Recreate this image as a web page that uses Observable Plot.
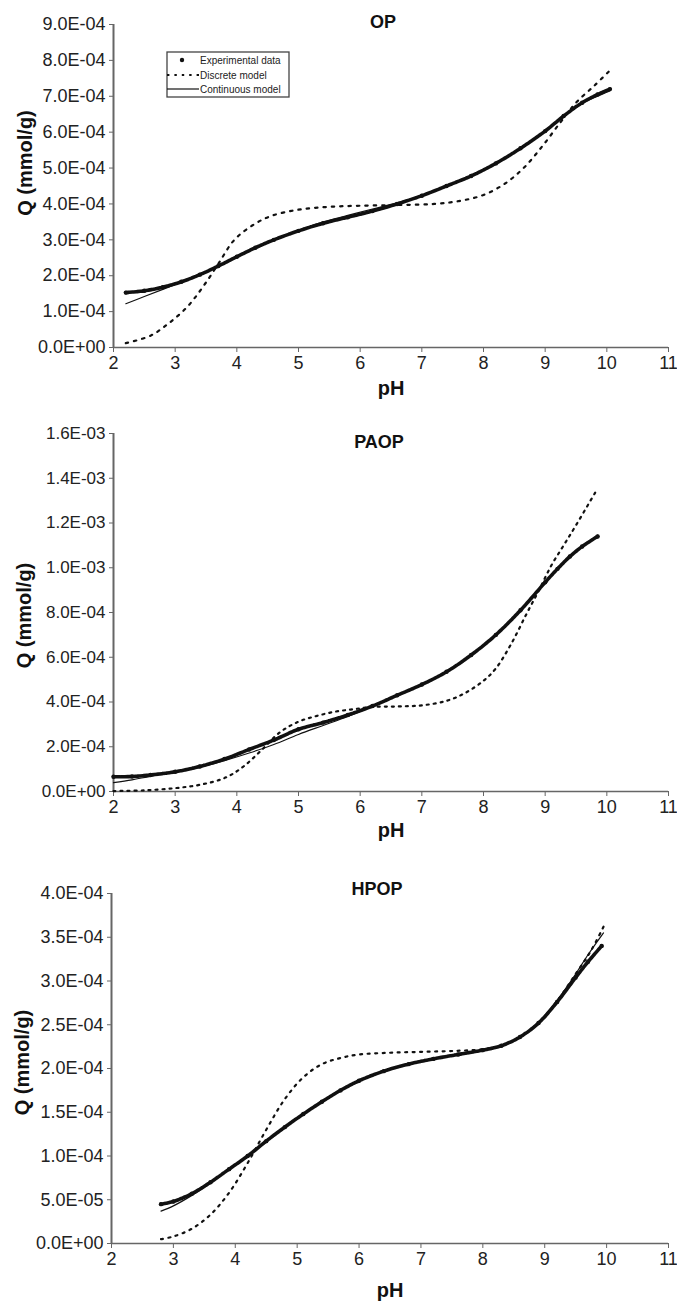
<!DOCTYPE html>
<html><head><meta charset="utf-8">
<script src="https://cdn.jsdelivr.net/npm/d3@7"></script>
<script src="https://cdn.jsdelivr.net/npm/@observablehq/plot@0.6"></script>
<style>
body{margin:0;background:#fff;}
#wrap{position:relative;width:677px;height:1308px;font-family:"Liberation Sans",Arial,sans-serif;overflow:hidden;}
.panel{position:absolute;left:0;}
#legend{position:absolute;left:166px;top:51px;}
</style></head><body><div id="wrap"></div>
<script>
// ---------- data (Q values in units of 1e-4 mmol/g) ----------
const xTicks = [2, 3, 4, 5, 6, 7, 8, 9, 10, 11];
const opYTicks = [0, 1e-4, 2e-4, 3e-4, 4e-4, 5e-4, 6e-4, 7e-4, 8e-4, 9e-4];
const paopYTicks = [0, 2e-4, 4e-4, 6e-4, 8e-4, 1e-3, 1.2e-3, 1.4e-3, 1.6e-3];
const hpopYTicks = [0, 5e-5, 1e-4, 1.5e-4, 2e-4, 2.5e-4, 3e-4, 3.5e-4, 4e-4];

// OP
const opExpPH = [2.2, 2.5, 2.8, 3.1, 3.4, 3.7, 4.0, 4.3, 4.6, 5.0, 5.4, 5.8, 6.2, 6.6, 7.0, 7.4, 7.8, 8.2, 8.6, 9.0, 9.3, 9.6, 9.85, 10.05];
const opExpQ  = [1.53, 1.58, 1.68, 1.83, 2.03, 2.27, 2.53, 2.78, 3.0, 3.25, 3.46, 3.63, 3.8, 4.0, 4.23, 4.5, 4.78, 5.13, 5.55, 6.03, 6.45, 6.82, 7.05, 7.2];
const opContPH = [2.2, 2.5, 2.8, 3.1, 3.4, 3.7, 4.0, 4.3, 4.6, 5.0, 5.4, 5.8, 6.2, 6.6, 7.0, 7.4, 7.8, 8.2, 8.6, 9.0, 9.3, 9.6, 9.85, 10.05];
const opContQ  = [1.22, 1.42, 1.62, 1.82, 2.03, 2.27, 2.53, 2.78, 3.0, 3.26, 3.5, 3.68, 3.86, 4.03, 4.24, 4.5, 4.78, 5.13, 5.55, 6.03, 6.45, 6.8, 7.0, 7.15];
const opDiscPH = [2.2, 2.6, 2.9, 3.2, 3.45, 3.7, 3.95, 4.25, 4.55, 5.0, 5.5, 6.0, 6.6, 7.2, 7.6, 8.0, 8.35, 8.65, 8.95, 9.25, 9.5, 9.8, 10.05];
const opDiscQ  = [0.12, 0.33, 0.68, 1.14, 1.69, 2.33, 2.98, 3.4, 3.66, 3.84, 3.92, 3.95, 3.97, 4.0, 4.08, 4.25, 4.57, 5.0, 5.6, 6.28, 6.82, 7.3, 7.72];

// PAOP
const paopExpPH = [2.0, 2.3, 2.6, 3.0, 3.4, 3.8, 4.2, 4.6, 5.0, 5.4, 5.8, 6.2, 6.6, 7.0, 7.4, 7.8, 8.2, 8.6, 9.0, 9.2, 9.4, 9.6, 9.85];
const paopExpQ  = [0.66, 0.67, 0.74, 0.88, 1.12, 1.45, 1.88, 2.3, 2.78, 3.08, 3.42, 3.82, 4.3, 4.78, 5.35, 6.1, 7.0, 8.1, 9.35, 9.95, 10.5, 10.95, 11.4];
const paopContPH = [2.0, 2.3, 2.6, 3.0, 3.4, 3.8, 4.2, 4.6, 5.0, 5.4, 5.8, 6.2, 6.6, 7.0, 7.4, 7.8, 8.2, 8.6, 9.0, 9.2, 9.4, 9.6, 9.85];
const paopContQ  = [0.4, 0.52, 0.68, 0.86, 1.08, 1.38, 1.72, 2.1, 2.55, 2.95, 3.35, 3.8, 4.28, 4.78, 5.35, 6.1, 7.0, 8.1, 9.35, 9.95, 10.5, 10.95, 11.45];
const paopDiscPH = [2.0, 2.5, 3.0, 3.4, 3.8, 4.1, 4.4, 4.7, 5.0, 5.3, 5.6, 5.9, 6.2, 6.6, 7.0, 7.4, 7.7, 8.0, 8.2, 8.45, 8.7, 8.9, 9.1, 9.3, 9.5, 9.82];
const paopDiscQ  = [0.02, 0.05, 0.15, 0.3, 0.6, 1.1, 1.85, 2.65, 3.12, 3.38, 3.57, 3.68, 3.78, 3.8, 3.85, 4.05, 4.4, 4.95, 5.5, 6.6, 7.95, 9.0, 10.1, 11.0, 11.9, 13.4];

// HPOP
const hpopExpPH = [2.8, 3.0, 3.3, 3.6, 3.9, 4.2, 4.5, 4.8, 5.1, 5.4, 5.7, 6.0, 6.4, 6.8, 7.2, 7.6, 8.0, 8.3, 8.6, 8.9, 9.2, 9.5, 9.7, 9.92];
const hpopExpQ  = [0.45, 0.48, 0.57, 0.7, 0.85, 1.0, 1.17, 1.33, 1.48, 1.62, 1.75, 1.86, 1.97, 2.05, 2.11, 2.16, 2.21, 2.26, 2.36, 2.52, 2.76, 3.04, 3.22, 3.4];
const hpopContPH = [2.8, 3.0, 3.3, 3.6, 3.9, 4.2, 4.5, 4.8, 5.1, 5.4, 5.7, 6.0, 6.4, 6.8, 7.2, 7.6, 8.0, 8.3, 8.6, 8.9, 9.2, 9.5, 9.7, 9.95];
const hpopContQ  = [0.37, 0.43, 0.55, 0.69, 0.85, 1.0, 1.17, 1.33, 1.48, 1.62, 1.75, 1.86, 1.97, 2.05, 2.11, 2.16, 2.21, 2.26, 2.36, 2.53, 2.78, 3.08, 3.3, 3.55];
const hpopDiscPH = [2.8, 3.0, 3.3, 3.6, 3.9, 4.2, 4.5, 4.8, 5.1, 5.4, 5.7, 6.0, 6.5, 7.0, 7.5, 8.0, 8.3, 8.6, 8.9, 9.2, 9.5, 9.75, 9.95];
const hpopDiscQ  = [0.05, 0.08, 0.17, 0.33, 0.58, 0.92, 1.3, 1.65, 1.9, 2.05, 2.12, 2.16, 2.18, 2.19, 2.2, 2.22, 2.26, 2.36, 2.52, 2.77, 3.08, 3.35, 3.62];

const legendLabels = ["Experimental data", "Discrete model", "Continuous model"];

// ---------- helpers ----------
function sci(d) {
  if (d === 0) return "0.0E+00";
  let e = Math.floor(Math.log10(Math.abs(d)) + 1e-9);
  let s = (d / Math.pow(10, e)).toFixed(1);
  if (s === "10.0") { e += 1; s = "1.0"; }
  return s + "E" + (e < 0 ? "-" : "+") + String(Math.abs(e)).padStart(2, "0");
}
const rows = (ph, q) => ph.map((p, i) => ({pH: p, Q: q[i] * 1e-4}));
const FONT = '"Liberation Sans", Arial, sans-serif';

function makePanel(c) {
  const exp = rows(c.expPH, c.expQ), cont = rows(c.contPH, c.contQ), disc = rows(c.discPH, c.discQ);
  const chart = Plot.plot({
    width: 677, height: c.height,
    marginTop: c.mt, marginBottom: c.mb, marginLeft: c.ml, marginRight: 9,
    style: {fontFamily: FONT, fontSize: "18px", color: "#222", background: "transparent", overflow: "visible"},
    x: {domain: [2, 11]},
    y: {domain: [0, c.yMax]},
    marks: [
      Plot.axisY({ticks: c.yTicks, tickFormat: sci, tickSize: 4, tickPadding: 4, label: null, fontSize: c.tickFont, stroke: "#666"}),
      Plot.axisX({ticks: xTicks, tickSize: 5, tickPadding: 4, label: null, fontSize: 18, stroke: "#666", tickFormat: d => String(d)}),
      Plot.ruleX([2], {stroke: "#666", strokeWidth: 2}),
      Plot.ruleY([0], {stroke: "#666", strokeWidth: 1.6}),
      Plot.line(disc, {x: "pH", y: "Q", curve: "catmull-rom", stroke: "#111", strokeWidth: 2.2, strokeDasharray: c.dash}),
      Plot.line(exp, {x: "pH", y: "Q", curve: "catmull-rom", stroke: "#111", strokeWidth: 3.6, strokeDasharray: "3,0.8"}),
      Plot.dot(exp, {x: "pH", y: "Q", r: 2.2, fill: "#111"}),
      Plot.line(cont, {x: "pH", y: "Q", curve: "catmull-rom", stroke: "#111", strokeWidth: 1.2}),
      Plot.text([c.title], {text: d => d, frameAnchor: "top", lineAnchor: "middle", dx: c.titleDx, dy: c.titleDy, fontWeight: "bold", fontSize: 18, fill: "#111"}),
      Plot.text(["pH"], {text: d => d, frameAnchor: "bottom", lineAnchor: "middle", dy: c.phDy, fontWeight: "bold", fontSize: 20, fill: "#111"}),
      Plot.text(["Q (mmol/g)"], {text: d => d, frameAnchor: "left", lineAnchor: "middle", textAnchor: "middle", rotate: -90, dx: c.qDx, dy: c.qDy, fontWeight: "bold", fontSize: 20, fill: "#111"})
    ]
  });
  chart.classList.add("panel");
  chart.style.top = c.top + "px";
  return chart;
}

const wrap = document.getElementById("wrap");
wrap.appendChild(makePanel({
  title: "OP", top: 0, height: 400, mt: 24, mb: 53, ml: 113, yMax: 9e-4, yTicks: opYTicks, tickFont: 18,
  expPH: opExpPH, expQ: opExpQ, contPH: opContPH, contQ: opContQ, discPH: opDiscPH, discQ: opDiscQ,
  titleDx: -8, titleDy: -2, phDy: 41, qDx: -88, qDy: -23, dash: "2.4,6"
}));
wrap.appendChild(makePanel({
  title: "PAOP", top: 410, height: 440, mt: 23, mb: 59, ml: 113, yMax: 1.6e-3, yTicks: paopYTicks, tickFont: 17,
  expPH: paopExpPH, expQ: paopExpQ, contPH: paopContPH, contQ: paopContQ, discPH: paopDiscPH, discQ: paopDiscQ,
  titleDx: -12, titleDy: 9, phDy: 39, qDx: -89, qDy: 3, dash: "2,5"
}));
wrap.appendChild(makePanel({
  title: "HPOP", top: 870, height: 438, mt: 23, mb: 65, ml: 111, yMax: 4e-4, yTicks: hpopYTicks, tickFont: 18,
  expPH: hpopExpPH, expQ: hpopExpQ, contPH: hpopContPH, contQ: hpopContQ, discPH: hpopDiscPH, discQ: hpopDiscQ,
  titleDx: -13, titleDy: -4, phDy: 47, qDx: -89, qDy: -6, dash: "2,5.5"
}));

// ---------- legend (panel OP) ----------
const lg = d3.create("svg").attr("id", "legend").attr("width", 126).attr("height", 49)
  .style("font-family", FONT);
lg.append("rect").attr("x", 1).attr("y", 1).attr("width", 122).attr("height", 45)
  .attr("fill", "#fff").attr("stroke", "#444").attr("stroke-width", 1.3);
const rowsY = [9, 24, 38];
lg.append("circle").attr("cx", 16).attr("cy", rowsY[0]).attr("r", 2.2).attr("fill", "#111");
lg.append("line").attr("x1", 1).attr("x2", 33).attr("y1", rowsY[1]).attr("y2", rowsY[1])
  .attr("stroke", "#111").attr("stroke-width", 2.2).attr("stroke-dasharray", "2.4,5");
lg.append("line").attr("x1", 1).attr("x2", 33).attr("y1", rowsY[2]).attr("y2", rowsY[2])
  .attr("stroke", "#111").attr("stroke-width", 1.2);
legendLabels.forEach((t, i) => {
  lg.append("text").attr("x", 34).attr("y", rowsY[i]).attr("dy", "0.35em")
    .attr("font-size", 10).attr("fill", "#222").text(t);
});
wrap.appendChild(lg.node());
</script>
</body></html>
